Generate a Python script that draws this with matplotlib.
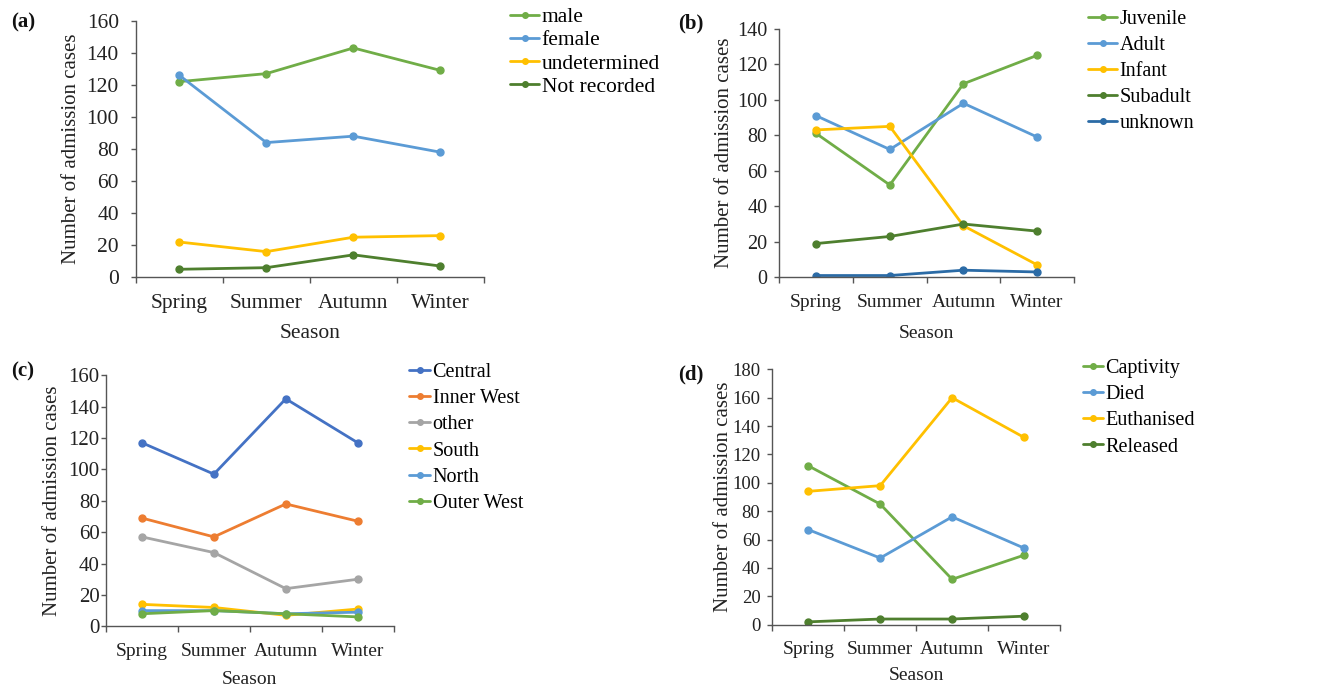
import matplotlib
matplotlib.use("Agg")
import matplotlib.pyplot as plt
from matplotlib.ticker import FixedLocator, MultipleLocator

plt.rcParams['font.family'] = ['Liberation Serif', 'DejaVu Serif']

seasons = ["Spring", "Summer", "Autumn", "Winter"]

# (a) sex
a_labels = ["male", "female", "undetermined", "Not recorded"]
a_male = [122, 127, 143, 129]
a_female = [126, 84, 88, 78]
a_undet = [22, 16, 25, 26]
a_notrec = [5, 6, 14, 7]

# (b) age
b_labels = ["Juvenile", "Adult", "Infant", "Subadult", "unknown"]
b_juvenile = [81, 52, 109, 125]
b_adult = [91, 72, 98, 79]
b_infant = [83, 85, 29, 7]
b_subadult = [19, 23, 30, 26]
b_unknown = [1, 1, 4, 3]

# (c) region
c_labels = ["Central", "Inner West", "other", "South", "North", "Outer West"]
c_central = [117, 97, 145, 117]
c_inner = [69, 57, 78, 67]
c_other = [57, 47, 24, 30]
c_south = [14, 12, 7, 11]
c_north = [10, 10, 8, 9]
c_outer = [8, 10, 8, 6]

# (d) outcome
d_labels = ["Captivity", "Died", "Euthanised", "Released"]
d_captivity = [112, 85, 32, 49]
d_died = [67, 47, 76, 54]
d_euth = [94, 98, 160, 132]
d_released = [2, 4, 4, 6]

GREEN = "#70AD47"
BLUE = "#5B9BD5"
YELLOW = "#FFC000"
DKGREEN = "#4E7F2E"
DKBLUE = "#2B6BA6"
CENTRAL = "#4472C4"
ORANGE = "#ED7D31"
GRAY = "#A5A5A5"

W, H = 1320, 688
fig = plt.figure(figsize=(W / 100, H / 100), dpi=100)
TXT = "#222222"

def rect(l, t, r, b):
    return [l / W, 1 - b / H, (r - l) / W, (b - t) / H]

def make_panel(box, series, labels, colors, ymax, step, tag, tagxy, legxy, hl, ls,
               ylabx, seasony, xfs, yfs, lfs, sfs, ypad):
    ax = fig.add_axes(rect(*box))
    x = list(range(1, len(seasons) + 1))
    for s, lab, c in zip(series, labels, colors):
        ax.plot(x, s, color=c, lw=2.0, marker='o', ms=5, label=lab, solid_capstyle='round')
    ax.set_xlim(0.5, len(seasons) + 0.5)
    ax.set_ylim(0, ymax)
    ax.yaxis.set_major_locator(MultipleLocator(step))
    ax.set_xticks(x)
    ax.set_xticklabels(seasons, fontsize=xfs, color=TXT)
    ax.tick_params(axis='x', which='major', length=0, pad=12)
    ax.xaxis.set_minor_locator(FixedLocator([i + 0.5 for i in range(0, len(seasons) + 1)]))
    ax.tick_params(axis='x', which='minor', length=4.3, direction='out', color="#555555", width=1)
    ax.tick_params(axis='y', length=3.5, direction='out', color="#555555", width=1,
                   labelsize=yfs, labelcolor=TXT, pad=ypad)
    for sp in ['top', 'right']:
        ax.spines[sp].set_visible(False)
    for sp in ['left', 'bottom']:
        ax.spines[sp].set_color("#555555")
        ax.spines[sp].set_linewidth(1)
    fig.text(ylabx / W, 1 - ((box[1] + box[3]) / 2) / H, "Number of admission cases",
             rotation=90, ha='center', va='center', fontsize=15, color=TXT)
    fig.text(((box[0] + box[2]) / 2) / W, 1 - seasony / H, "Season", ha='center', va='center',
             fontsize=sfs, color=TXT)
    fig.text(tagxy[0] / W, 1 - tagxy[1] / H, tag, ha='left', va='center', fontsize=15,
             fontweight='bold', color="#111111")
    fig.legend(*ax.get_legend_handles_labels(), loc='upper left',
               bbox_to_anchor=(legxy[0] / W, 1 - legxy[1] / H), frameon=False,
               fontsize=lfs, handlelength=hl, handletextpad=0.12, labelspacing=ls,
               borderpad=0, borderaxespad=0, markerscale=0.8)
    return ax

make_panel((135.7, 20.7, 484, 277.3),
           [a_male, a_female, a_undet, a_notrec], a_labels,
           [GREEN, BLUE, YELLOW, DKGREEN], 160, 20, "(a)", (11, 22), (510, 7), 1.35, 0.15,
           71, 333, 15.5, 15.5, 15.5, 15.5, 8.6)

make_panel((779.3, 28.7, 1074, 277.3),
           [b_juvenile, b_adult, b_infant, b_subadult, b_unknown], b_labels,
           [GREEN, BLUE, YELLOW, DKGREEN, DKBLUE], 140, 20, "(b)", (678, 23), (1088, 9.5), 1.45, 0.35,
           725, 333, 14, 14.5, 14.5, 14, 5)

make_panel((106, 375.3, 393.7, 626.3),
           [c_central, c_inner, c_other, c_south, c_north, c_outer], c_labels,
           [CENTRAL, ORANGE, GRAY, YELLOW, BLUE, GREEN], 160, 20, "(c)", (11, 371), (409, 363), 1.05, 0.35,
           53, 680, 14, 15, 14.5, 14, 1)

make_panel((772.3, 369.3, 1060, 624.7),
           [d_captivity, d_died, d_euth, d_released], d_labels,
           [GREEN, BLUE, YELLOW, DKGREEN], 180, 20, "(d)", (678, 374), (1083, 359), 1.0, 0.35,
           723, 675, 14, 13.5, 14.5, 14, 5)

fig.savefig("out.png", dpi=100, facecolor='white')
